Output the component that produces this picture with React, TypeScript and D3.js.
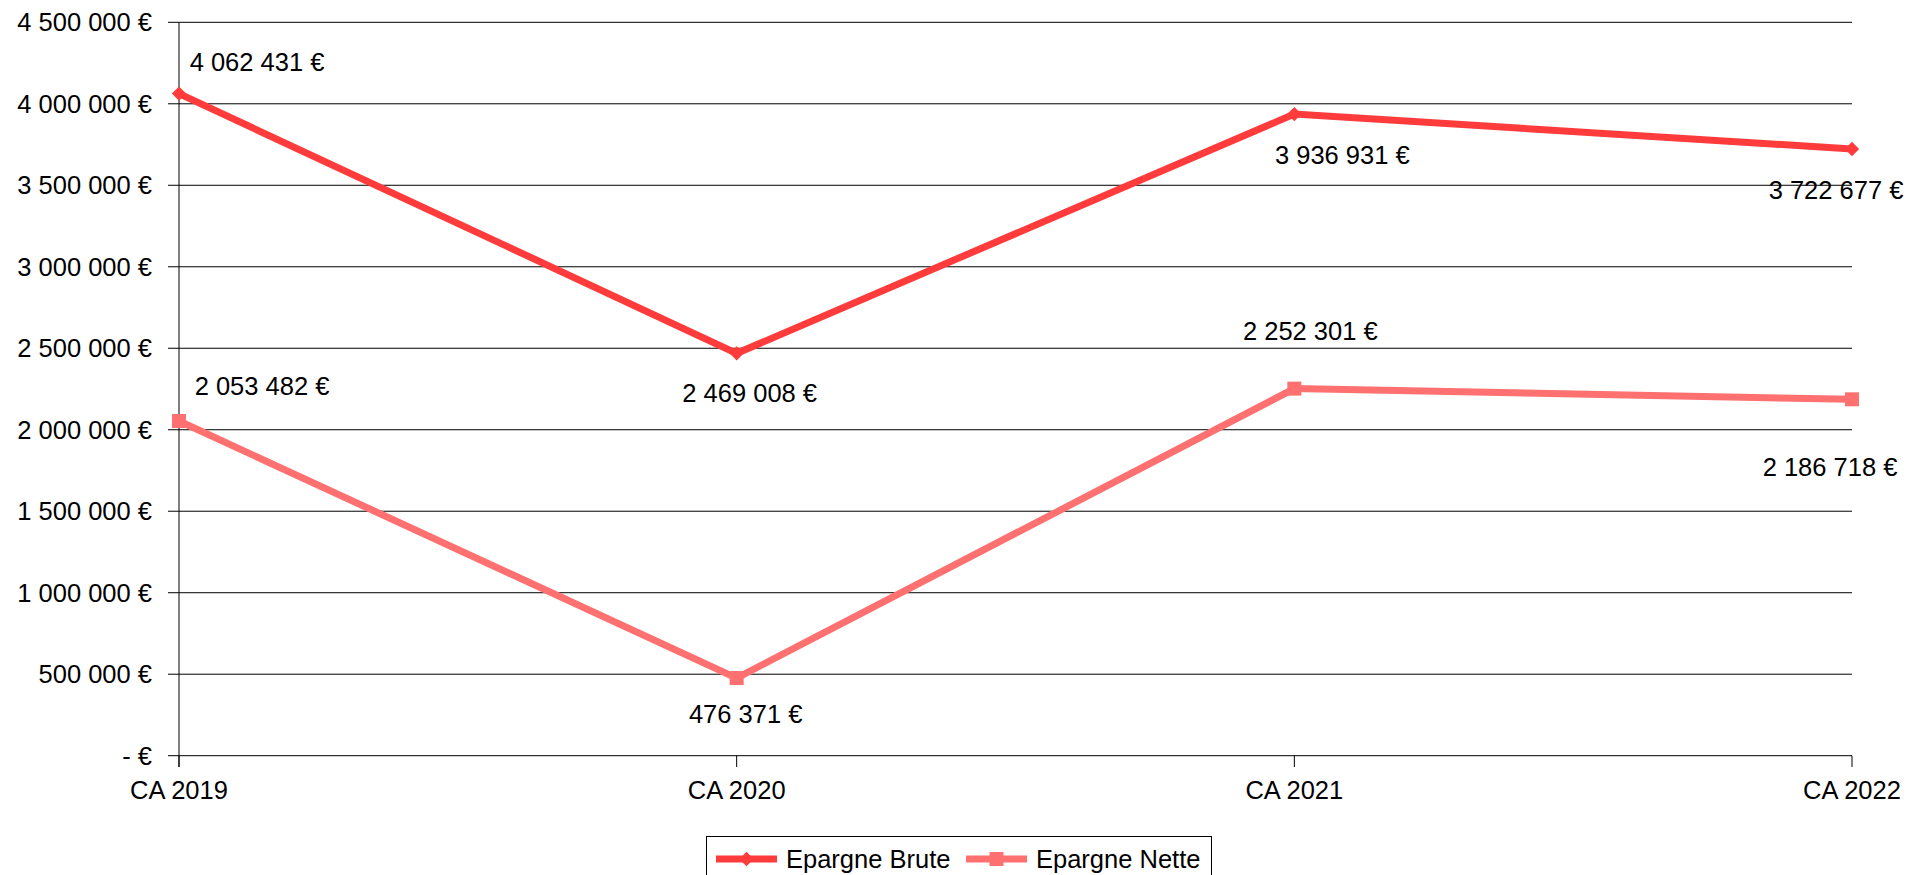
import React from 'react'
import * as d3 from 'd3'

const years = ['CA 2019', 'CA 2020', 'CA 2021', 'CA 2022']
const epargneBrute = [4062431, 2469008, 3936931, 3722677]
const epargneNette = [2053482, 476371, 2252301, 2186718]
const yTicks = [0, 500000, 1000000, 1500000, 2000000, 2500000, 3000000, 3500000, 4000000, 4500000]

// label placement relative to each point (dx, dy of label centre)
const bruteLabelOffsets = [[78, -32], [13, 40], [48, 41], [-16, 41]]
const netteLabelOffsets = [[83, -35], [9, 36], [16, -58], [-22, 68]]

const W = 1908
const H = 875
const left = 179
const right = 1852
const top = 22.3
const bottom = 755.7
const FONT = '"Liberation Sans", Arial, sans-serif'
const FS = 25.5

const locale = d3.formatLocale({ decimal: ',', thousands: ' ', grouping: [3], currency: ['', ' €'] })
const fmt = locale.format(',.0f')
const money = (v: number) => v === 0 ? '- €' : `${fmt(v)} €`

const series = [
  { name: 'Epargne Brute', values: epargneBrute, color: '#FF3B3B', marker: 'diamond', offsets: bruteLabelOffsets },
  { name: 'Epargne Nette', values: epargneNette, color: '#FF7070', marker: 'square', offsets: netteLabelOffsets },
]

const Marker = ({ kind, x, y, color }: any) => kind === 'diamond'
  ? <path d={d3.symbol(d3.symbolDiamond2, 130)()!} transform={`translate(${x},${y})`} fill={color} />
  : <rect x={x - 7} y={y - 7} width={14} height={14} fill={color} />

export default function App() {
  const x = d3.scalePoint().domain(years).range([left, right])
  const y = d3.scaleLinear().domain([0, 4500000]).range([bottom, top])
  const line = d3.line<number>().x((_, i) => x(years[i])!).y(d => y(d))

  return <svg width={W} height={H} style={{ position: 'absolute', left: 0, top: 0, background: '#fff' }}
              fontFamily={FONT} fontSize={FS}>
    <rect width={W} height={H} fill="#fff" />
    {yTicks.map(t => <g key={t}>
      <line x1={168} x2={right} y1={y(t)} y2={y(t)} stroke="#000" strokeWidth={1} />
      <text x={152} y={y(t) + 9} textAnchor="end" fill="#000">{money(t)}</text>
    </g>)}
    <line x1={left} x2={left} y1={top} y2={767} stroke="#000" strokeWidth={1} />
    {years.map(c => <g key={c}>
      <line x1={x(c)} x2={x(c)} y1={bottom} y2={767} stroke="#000" strokeWidth={1} />
      <text x={x(c)} y={799} textAnchor="middle" fill="#000">{c}</text>
    </g>)}
    {series.map(s => <g key={s.name}>
      <path d={line(s.values)!} fill="none" stroke={s.color} strokeWidth={7} strokeLinejoin="miter" />
      {s.values.map((v, i) => <Marker key={i} kind={s.marker} x={x(years[i])} y={y(v)} color={s.color} />)}
      {s.values.map((v, i) => <text key={'l' + i} x={x(years[i])! + s.offsets[i][0]} y={y(v) + s.offsets[i][1] + 9}
                                    textAnchor="middle" fill="#000">{money(v)}</text>)}
    </g>)}
    <rect x={706.5} y={836.5} width={505} height={60} fill="#fff" stroke="#000" strokeWidth={1} />
    {series.map((s, i) => {
      const lx = i === 0 ? 716 : 966
      return <g key={'lg' + s.name}>
        <line x1={lx} x2={lx + 61} y1={859} y2={859} stroke={s.color} strokeWidth={7} />
        <Marker kind={s.marker} x={lx + 30.5} y={859} color={s.color} />
        <text x={lx + 70} y={868} fill="#000">{s.name}</text>
      </g>
    })}
  </svg>
}
